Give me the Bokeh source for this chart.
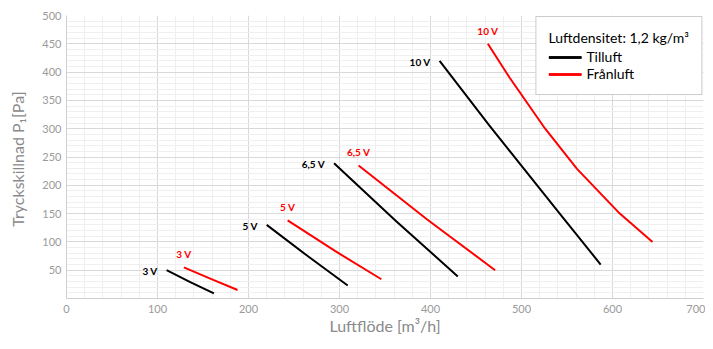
from bokeh.plotting import figure
from bokeh.models import FixedTicker, Range1d, ColumnDataSource
from bokeh.core.properties import value
from bokeh.embed import file_html
from bokeh.resources import INLINE

# ---- data ----
voltages = ["3 V", "5 V", "6,5 V", "10 V"]

tilluft_x = [[110, 136, 162], [220, 265, 309], [294, 362, 430], [410, 465, 542, 587]]
tilluft_y = [[50, 29, 9], [130, 75, 23], [239, 137, 39], [420, 305, 150, 60]]

franluft_x = [[129, 158, 188], [243, 295, 346], [321, 396, 471],
              [463, 487, 526, 561, 608, 644]]
franluft_y = [[55, 35, 15], [138, 84, 34], [235, 140, 50],
              [450, 390, 300, 229, 150, 100]]

x_ticks = [0, 100, 200, 300, 400, 500, 600, 700]
y_ticks = [50, 100, 150, 200, 250, 300, 350, 400, 450, 500]
x_minor = list(range(0, 701, 20))
y_minor = list(range(0, 501, 10))

FONT = "Lato"

p = figure(width=705, height=341, output_backend="svg", toolbar_location=None,
           x_range=Range1d(0, 700), y_range=Range1d(0, 500),
           min_border_left=66, min_border_right=2, min_border_top=15,
           min_border_bottom=43)
p.outline_line_color = None

p.xaxis.ticker = FixedTicker(ticks=x_ticks, minor_ticks=x_minor)
p.yaxis.ticker = FixedTicker(ticks=y_ticks, minor_ticks=y_minor)

for g in (p.xgrid, p.ygrid):
    g.grid_line_color = "#d9d9d9"
    g.grid_line_width = 1
    g.minor_grid_line_color = "#efefef"
    g.minor_grid_line_width = 1

for ax in (p.xaxis, p.yaxis):
    ax.axis_line_color = "#cfcfcf"
    ax.major_tick_line_color = None
    ax.minor_tick_line_color = None
    ax.major_tick_out = 0
    ax.major_tick_in = 0
    ax.minor_tick_out = 0
    ax.minor_tick_in = 0
    ax.major_label_text_font = FONT
    ax.major_label_text_font_size = "11px"
    ax.major_label_text_color = "#9a9a9a"
    ax.axis_label_text_font = FONT
    ax.axis_label_text_font_size = "16px"
    ax.axis_label_text_font_style = "normal"
    ax.axis_label_text_color = "#8a8a8a"

p.xaxis.axis_label = "Luftflöde [m³/h]"
p.yaxis.axis_label = "Tryckskillnad  P₁[Pa]"
p.xaxis.major_label_standoff = 6
p.yaxis.major_label_standoff = 5
p.xaxis.axis_label_standoff = 0
p.yaxis.axis_label_standoff = 12

# ---- curves ----
for xs, ys in zip(tilluft_x, tilluft_y):
    p.line(xs, ys, line_color="black", line_width=2, line_join="round",
           legend_label="Tilluft")
for xs, ys in zip(franluft_x, franluft_y):
    p.line(xs, ys, line_color="#ff0000", line_width=2, line_join="round",
           legend_label="Frånluft")

# ---- voltage labels ----
black_src = ColumnDataSource(dict(x=[xs[0] for xs in tilluft_x],
                                  y=[ys[0] for ys in tilluft_y],
                                  t=voltages))
red_src = ColumnDataSource(dict(x=[xs[0] for xs in franluft_x],
                                y=[ys[0] for ys in franluft_y],
                                t=voltages))
p.text(x="x", y="y", text="t", source=black_src, text_align="right",
       text_baseline="middle", x_offset=-9, y_offset=1,
       text_font=value(FONT), text_font_style="bold", text_font_size="10px",
       text_color="black")
p.text(x="x", y="y", text="t", source=red_src, text_align="center",
       text_baseline="middle", y_offset=-13,
       text_font=value(FONT), text_font_style="bold", text_font_size="10px",
       text_color="#ff0000")

# ---- legend ----
lg = p.legend[0]
lg.title = "Luftdensitet: 1,2 kg/m³"
lg.title_text_font = FONT
lg.title_text_font_style = "normal"
lg.title_text_font_size = "14px"
lg.title_text_color = "black"
lg.title_standoff = 2
lg.label_text_font = FONT
lg.label_text_font_size = "14px"
lg.label_text_color = "black"
lg.location = "top_right"
lg.margin = 1
lg.padding = 12
lg.spacing = 0
lg.glyph_width = 33
lg.glyph_height = 16
lg.label_height = 16
lg.label_standoff = 5
lg.border_line_color = "#9a9a9a"
lg.border_line_width = 1
lg.background_fill_color = "white"
lg.background_fill_alpha = 1

open("out.html", "w").write(file_html(p, INLINE))
